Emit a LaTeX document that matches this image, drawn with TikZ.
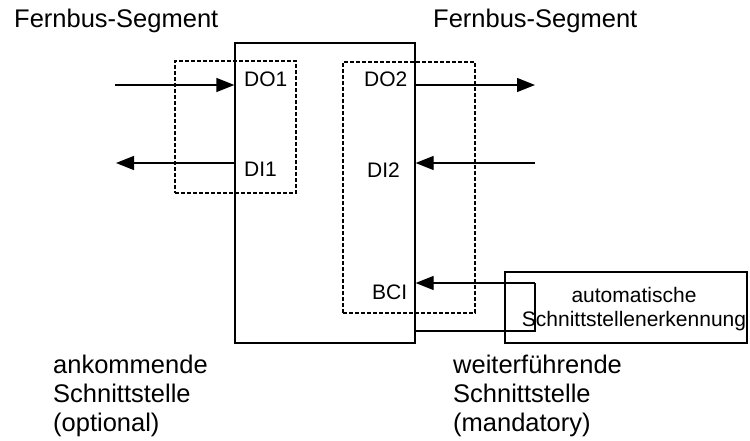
\documentclass[tikz,border=0pt]{standalone}
\usepackage{fontspec}
\setmainfont{Liberation Sans}
\usetikzlibrary{arrows.meta, positioning}
\definecolor{line-col}{HTML}{000000}
\tikzset{
  block/.style={
    draw=line-col, line width=1.3pt, inner sep=0pt
  },
  iface/.style={
    draw=line-col, line width=1.3pt, dash pattern=on 4pt off 2pt, inner sep=0pt
  },
  sig/.style={
    draw=line-col, line width=1.3pt,
    -{Triangle[length=18pt, width=14pt]}
  },
  wire/.style={draw=line-col, line width=1.3pt},
  port/.style={font=\fontsize{21}{24}\selectfont, inner sep=0pt, anchor=base west},
  bigtxt/.style={font=\fontsize{25.5}{29}\selectfont, inner sep=0pt}
}

\begin{document}
\begin{tikzpicture}[x=1pt, y=-1pt]
  \useasboundingbox (0,0) rectangle (750,441);

  % ---- Device and interface frames -----------------------------------------
  \node[block, minimum width=180pt, minimum height=300pt] (dev) at (325,193) {};
  \node[iface, minimum width=121pt, minimum height=132pt] (inbox) at (235.5,127) {};
  \node[iface, minimum width=132pt, minimum height=251pt] (outbox) at (409,187.5) {};
  \node[block, minimum width=242pt, minimum height=71pt] (auto) at (626,307.5) {};
  \node[font=\fontsize{21}{24}\selectfont, align=center, inner sep=0pt] (autolbl)
        at (634,309.5) {automatische\\Schnittstellenerkennung};

  % ---- Port labels ---------------------------------------------------------
  \node[port] (do1) at (244,87) {DO1};
  \node[port] (di1) at (244,177) {DI1};
  \node[port] (do2) at (364,87) {DO2};
  \node[port] (di2) at (367,178) {DI2};
  \node[port] (bci) at (372,299) {BCI};

  % ---- Signals -------------------------------------------------------------
  \coordinate (do1in) at (115,85);
  \coordinate (di1out) at (116,163);
  \coordinate (do2out) at (535,85);
  \coordinate (di2in) at (535,163);
  \coordinate (bcret) at (535,331);
  \coordinate (bcturn) at (535,283);

  \draw[sig] (do1in) -- (do1in -| dev.west);
  \draw[sig] (di1out -| dev.west) -- (di1out);
  \draw[sig] (do2out -| dev.east) -- (do2out);
  \draw[sig] (di2in) -- (di2in -| dev.east);
  \draw[wire] (bcret -| dev.east) -- (bcret) -- (bcturn);
  \draw[sig] (bcturn) -- (bcturn -| dev.east);

  % ---- Headings and captions -----------------------------------------------
  \node[bigtxt, anchor=base west] (seg-in) at (14,28) {Fernbus-Segment};
  \node[bigtxt, anchor=base west] (seg-out) at (433,28) {Fernbus-Segment};
  \node[bigtxt, anchor=north west, align=left] (cap-in) at (53,354.5)
        {ankommende\\Schnittstelle\\(optional)};
  \node[bigtxt, anchor=north west, align=left] (cap-out) at (453,354.5)
        {weiterführende\\Schnittstelle\\(mandatory)};

\end{tikzpicture}
\end{document}
